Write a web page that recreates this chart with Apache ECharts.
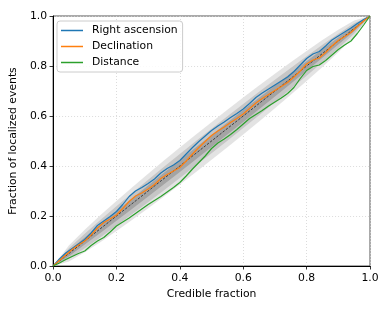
<!DOCTYPE html>
<html>
<head>
<meta charset="utf-8">
<script src="https://cdn.jsdelivr.net/npm/echarts@6/dist/echarts.min.js"></script>
<style>html,body{margin:0;padding:0;background:#fff}#c{width:390px;height:312px}</style>
</head>
<body>
<div id="c"></div>
<script>
// Credible fraction grid for the measured curves
const xs = [0,0.02,0.04,0.06,0.08,0.10,0.12,0.14,0.16,0.18,0.20,0.22,0.24,0.26,0.28,0.30,0.32,0.34,0.36,0.38,0.40,0.42,0.44,0.46,0.48,0.50,0.52,0.54,0.56,0.58,0.60,0.62,0.64,0.66,0.68,0.70,0.72,0.74,0.76,0.78,0.80,0.82,0.84,0.86,0.88,0.90,0.92,0.94,0.96,0.98,1.00];
const rightAscension = [0,0.028,0.052,0.070,0.088,0.106,0.132,0.162,0.180,0.198,0.218,0.246,0.278,0.300,0.314,0.330,0.348,0.372,0.390,0.404,0.422,0.448,0.474,0.498,0.520,0.542,0.560,0.576,0.594,0.610,0.628,0.650,0.674,0.692,0.708,0.724,0.740,0.756,0.778,0.804,0.830,0.848,0.858,0.880,0.904,0.920,0.936,0.952,0.970,0.986,1.000];
const declination = [0,0.022,0.044,0.066,0.084,0.100,0.124,0.152,0.174,0.188,0.204,0.230,0.258,0.280,0.292,0.308,0.326,0.350,0.366,0.380,0.394,0.420,0.448,0.474,0.498,0.522,0.540,0.556,0.574,0.590,0.608,0.630,0.652,0.670,0.686,0.702,0.718,0.734,0.756,0.780,0.808,0.824,0.832,0.854,0.880,0.902,0.918,0.934,0.958,0.980,1.000];
const distance = [0,0.012,0.026,0.038,0.050,0.060,0.082,0.100,0.114,0.136,0.160,0.176,0.192,0.210,0.228,0.246,0.262,0.278,0.296,0.314,0.334,0.360,0.388,0.414,0.440,0.470,0.492,0.508,0.526,0.546,0.568,0.590,0.606,0.622,0.640,0.656,0.672,0.690,0.714,0.750,0.782,0.798,0.804,0.822,0.844,0.866,0.884,0.900,0.930,0.964,1.000];

// Confidence band (half-widths around the diagonal)
const bandX = [0,0.05,0.10,0.15,0.20,0.25,0.30,0.35,0.40,0.45,0.50,0.55,0.60,0.65,0.70,0.75,0.80,0.85,0.90,0.95,1.00];
const bandOuter = [0,0.032,0.045,0.054,0.060,0.065,0.069,0.072,0.074,0.075,0.075,0.075,0.074,0.072,0.069,0.065,0.060,0.054,0.045,0.032,0];
const bandMid   = [0,0.021,0.029,0.035,0.039,0.042,0.045,0.047,0.048,0.049,0.049,0.049,0.048,0.047,0.045,0.042,0.039,0.035,0.029,0.021,0];
const bandInner = [0,0.011,0.014,0.017,0.019,0.021,0.022,0.023,0.024,0.024,0.024,0.024,0.024,0.023,0.022,0.021,0.019,0.017,0.014,0.011,0];

const tickValues = [0,0.2,0.4,0.6,0.8,1.0];
const seriesNames = ['Right ascension','Declination','Distance'];
const seriesColors = ['#1f77b4','#ff7f0e','#2ca02c'];

const FONT = 'DejaVu Sans';
const FS = 10.8;

function bandSeries(widths, color, z) {
  return {
    type: 'custom',
    silent: true,
    z: z,
    data: [[0, 0]],
    renderItem: function (params, api) {
      const pts = [];
      for (let i = 0; i < bandX.length; i++) pts.push(api.coord([bandX[i], bandX[i] + widths[i]]));
      for (let i = bandX.length - 1; i >= 0; i--) pts.push(api.coord([bandX[i], bandX[i] - widths[i]]));
      return { type: 'polygon', shape: { points: pts }, style: { fill: color, stroke: null } };
    }
  };
}

function zip(a, b) { return a.map((v, i) => [v, b[i]]); }

const chart = echarts.init(document.getElementById('c'), null, { renderer: 'canvas' });
const axisCommon = {
  type: 'value', min: 0, max: 1, interval: 0.2,
  axisLine: { show: true, onZero: false, lineStyle: { color: '#000', width: 1 } },
  axisTick: { show: true, inside: false, length: 3.5, lineStyle: { color: '#000', width: 0.8 } },
  axisLabel: { color: '#000', fontSize: FS, fontFamily: FONT, formatter: v => v.toFixed(1) },
  splitLine: { show: true, lineStyle: { color: '#d3d3d3', width: 0.8, type: [1, 2] } },
  nameLocation: 'middle',
  nameTextStyle: { color: '#000', fontSize: FS, fontFamily: FONT }
};
chart.setOption({
  animation: false,
  backgroundColor: '#fff',
  grid: { left: 52, right: 20, top: 16, bottom: 46, show: true, borderColor: '#555', borderWidth: 1, backgroundColor: 'transparent' },
  xAxis: Object.assign({}, axisCommon, { name: 'Credible fraction', nameGap: 21, axisLabel: Object.assign({}, axisCommon.axisLabel, { margin: 7 }) }),
  yAxis: Object.assign({}, axisCommon, { name: 'Fraction of localized events', nameGap: 27, axisLabel: Object.assign({}, axisCommon.axisLabel, { margin: 6 }) }),
  legend: {
    data: seriesNames.map((n, i) => ({ name: n, icon: 'rect', itemStyle: { color: seriesColors[i] } })),
    orient: 'vertical', left: 57, top: 21,
    itemWidth: 22, itemHeight: 1.5, itemGap: 3,
    padding: [3, 5, 3, 4],
    backgroundColor: 'rgba(255,255,255,0.85)', borderColor: '#cccccc', borderWidth: 1, borderRadius: 3,
    textStyle: { color: '#000', fontSize: FS, fontFamily: FONT, lineHeight: 13, padding: [0, 0, 0, 4] }
  },
  series: [
    bandSeries(bandOuter, '#e3e3e3', 1),
    bandSeries(bandMid, '#c6c6c6', 2),
    bandSeries(bandInner, '#a4a4a4', 3),
    { type: 'line', data: [[0, 0], [1, 1]], symbol: 'none', silent: true, z: 4,
      lineStyle: { color: '#222', width: 0.8, type: [2.5, 1.5] } },
    ...seriesNames.map((n, i) => ({
      name: n, type: 'line', symbol: 'none', z: 5 + i,
      data: zip(xs, [rightAscension, declination, distance][i]),
      lineStyle: { color: seriesColors[i], width: 1.2 },
      itemStyle: { color: seriesColors[i] }
    }))
  ]
});
</script>
</body>
</html>
